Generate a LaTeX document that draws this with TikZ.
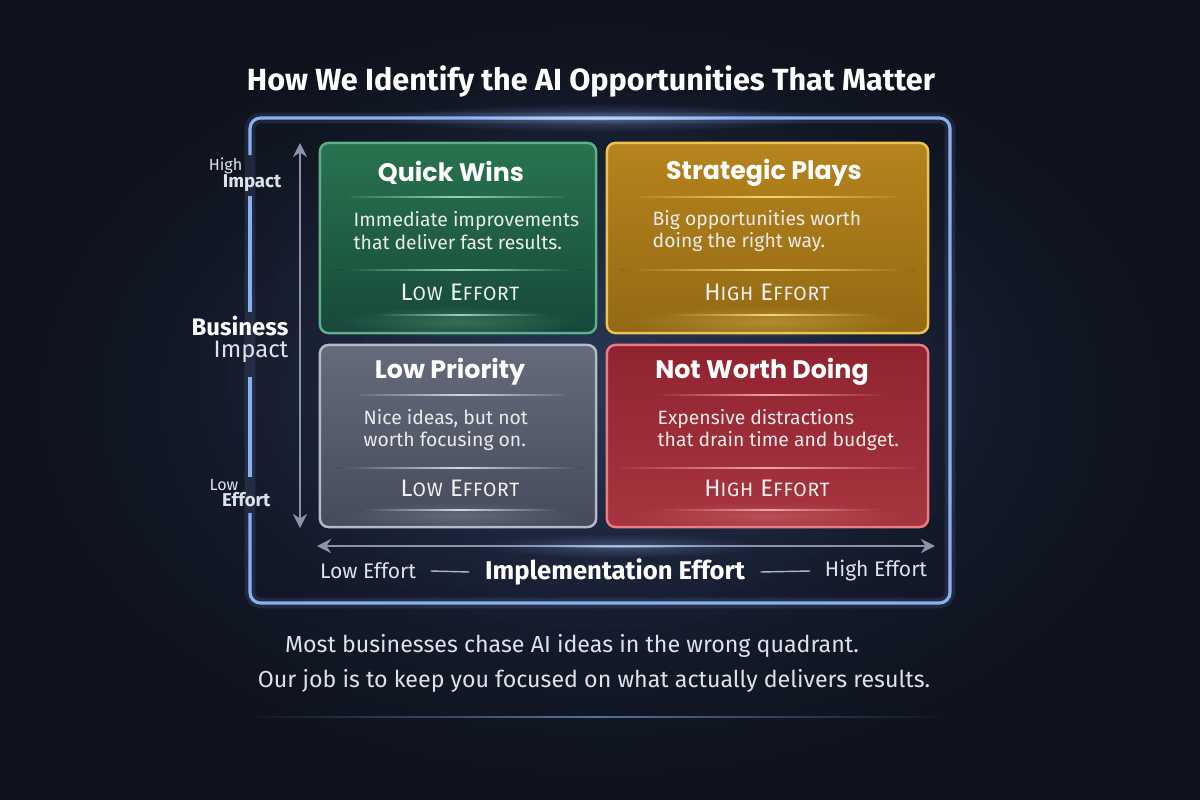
\documentclass[tikz,border=0pt]{standalone}
\usepackage{fontspec}
\setmainfont{Fira Sans}
\newfontfamily\cardfont{Poppins}
\usetikzlibrary{arrows.meta,positioning,fadings}

\definecolor{bgDark}{HTML}{0E121C}
\definecolor{bgGlow}{HTML}{1D2640}
\definecolor{frameBlue}{HTML}{8AB0F0}
\definecolor{axisGray}{HTML}{8A95AB}
\definecolor{labelGray}{HTML}{DDE2EA}
\definecolor{winsTop}{HTML}{28744F}
\definecolor{winsBot}{HTML}{17483A}
\definecolor{winsEdge}{HTML}{5DB08A}
\definecolor{winsLine}{HTML}{8FD8B2}
\definecolor{playsTop}{HTML}{B6841C}
\definecolor{playsBot}{HTML}{936914}
\definecolor{playsEdge}{HTML}{EBC452}
\definecolor{playsLine}{HTML}{F5D77A}
\definecolor{prioTop}{HTML}{656B7A}
\definecolor{prioBot}{HTML}{454B5A}
\definecolor{prioEdge}{HTML}{B4BAC7}
\definecolor{prioLine}{HTML}{D2D7E0}
\definecolor{notTop}{HTML}{912331}
\definecolor{notBot}{HTML}{A7353F}
\definecolor{notEdge}{HTML}{EB7C84}
\definecolor{notLine}{HTML}{F2A1A6}

\tikzfading[name=glowfade, inner color=transparent!0, outer color=transparent!100]

\newcommand{\sclow}[1]{{\fontsize{5.5}{6}\selectfont #1}}

\begin{document}
\begin{tikzpicture}[x=0.01cm, y=-0.01cm,
    cardbox/.style={rectangle, rounded corners=2.4pt, line width=0.7pt, inner sep=0pt},
    cardtitle/.style={text=white, font=\cardfont\bfseries\fontsize{7.2}{8}\selectfont, inner sep=0pt},
    carddesc/.style={text=white!92!black, font=\fontsize{5.5}{6.5}\selectfont, align=left, anchor=west, inner sep=0pt},
    efforttext/.style={text=white!94!black, font=\addfontfeature{LetterSpace=4}\fontsize{6.8}{7}\selectfont, inner sep=0pt},
    sidelabel/.style={text=labelGray, anchor=east, inner sep=0pt},
    axisarrow/.style={{Stealth[length=4pt,width=4pt]}-{Stealth[length=4pt,width=4pt]}, axisGray, line width=0.6pt},
    axisdash/.style={axisGray!70, line width=0.4pt},
    glow/.style={path fading=glowfade}]
    \useasboundingbox (0,0) rectangle (1200,800);

    % Background
    \shade[inner color=bgGlow, outer color=bgDark] (0,0) rectangle (1200,800);
    \fill[frameBlue, opacity=0.12, glow] (600,360) ellipse (420 and 300);

    % Title
    \node[text=white, font=\bfseries\fontsize{8.7}{10}\selectfont, inner sep=0pt] (title) at (591,81) {How We Identify the AI Opportunities That Matter};

    % Frame (with glow)
    \draw[frameBlue, line width=3pt, opacity=0.12, rounded corners=3pt] (250,118) rectangle (950,603);
    \draw[frameBlue, line width=0.9pt, rounded corners=3pt] (250,155) -- (250,118) -- (950,118) -- (950,603) -- (250,603) -- (250,513);
    \draw[frameBlue, line width=0.9pt] (250,477) -- (250,377);
    \draw[frameBlue, line width=0.9pt] (250,312) -- (250,196);
    \fill[white, opacity=0.8, glow] (600,118) ellipse (150 and 2.5);
    \fill[frameBlue, opacity=0.35, glow] (600,118) ellipse (220 and 14);

    % Axes
    \coordinate (vTop) at (300,143);
    \coordinate (vBot) at (300,528);
    \coordinate (hLeft) at (317,546);
    \coordinate (hRight) at (935,546);
    \draw[axisarrow] (vTop) -- (vBot);
    \draw[axisarrow] (hLeft) -- (hRight);
    \fill[white, opacity=0.6, glow] (620,546) ellipse (90 and 2);
    \fill[frameBlue, opacity=0.3, glow] (620,546) ellipse (140 and 12);

    % Cards
    \node[cardbox, draw=winsEdge, top color=winsTop, bottom color=winsBot, minimum width=2.76cm, minimum height=1.90cm] (wins) at (458,238) {};
    \node[cardbox, draw=playsEdge, top color=playsTop, bottom color=playsBot, minimum width=3.21cm, minimum height=1.90cm] (plays) at (767.5,238) {};
    \node[cardbox, draw=prioEdge, top color=prioTop, bottom color=prioBot, minimum width=2.76cm, minimum height=1.82cm] (prio) at (458,436) {};
    \node[cardbox, draw=notEdge, top color=notTop, bottom color=notBot, minimum width=3.21cm, minimum height=1.82cm] (notworth) at (767.5,436) {};

    % Card glows
    \fill[winsLine, opacity=0.25, glow] (458,322) ellipse (120 and 16);
    \fill[playsLine, opacity=0.3, glow] (767,322) ellipse (140 and 16);
    \fill[prioLine, opacity=0.2, glow] (458,516) ellipse (120 and 14);
    \fill[notLine, opacity=0.25, glow] (767,516) ellipse (140 and 14);

    % Divider lines
    \shade[left color=winsTop, right color=winsTop, middle color=winsLine] (350,196.3) rectangle (565,197.7);
    \shade[left color=winsBot, right color=winsBot, middle color=winsLine] (335,269.3) rectangle (585,270.7);
    \shade[left color=winsBot, right color=winsBot, middle color=winsLine] (370,314.3) rectangle (550,315.7);
    \shade[left color=playsTop, right color=playsTop, middle color=playsLine] (640,196.3) rectangle (895,197.7);
    \shade[left color=playsBot, right color=playsBot, middle color=playsLine] (620,269.3) rectangle (915,270.7);
    \shade[left color=playsBot, right color=playsBot, middle color=playsLine] (660,314.3) rectangle (880,315.7);
    \shade[left color=prioTop, right color=prioTop, middle color=prioLine] (360,394.3) rectangle (565,395.7);
    \shade[left color=prioBot, right color=prioBot, middle color=prioLine] (335,467.3) rectangle (585,468.7);
    \shade[left color=prioBot, right color=prioBot, middle color=prioLine] (360,509.3) rectangle (560,510.7);
    \shade[left color=notTop, right color=notTop, middle color=notLine] (650,394.3) rectangle (890,395.7);
    \shade[left color=notBot, right color=notBot, middle color=notLine] (620,467.3) rectangle (915,468.7);
    \shade[left color=notBot, right color=notBot, middle color=notLine] (660,509.3) rectangle (880,510.7);

    % Card texts
    \node[cardtitle] (winsTitle) at (451,173) {Quick Wins};
    \node[carddesc] (winsDesc) at (353,231) {Immediate improvements\\that deliver fast results.};
    \node[efforttext] (winsEffort) at (460,292) {L\sclow{OW} E\sclow{FFORT}};

    \node[cardtitle] (playsTitle) at (764,173) {Strategic Plays};
    \node[carddesc] (playsDesc) at (652,231) {Big opportunities worth\\doing the right way.};
    \node[efforttext] (playsEffort) at (767,292) {H\sclow{IGH} E\sclow{FFORT}};

    \node[cardtitle] (prioTitle) at (450,372) {Low Priority};
    \node[carddesc] (prioDesc) at (363,430) {Nice ideas, but not\\worth focusing on.};
    \node[efforttext] (prioEffort) at (460,488) {L\sclow{OW} E\sclow{FFORT}};

    \node[cardtitle] (notTitle) at (762,372) {Not Worth Doing};
    \node[carddesc] (notDesc) at (657,430) {Expensive distractions\\that drain time and budget.};
    \node[efforttext] (notEffort) at (767,488) {H\sclow{IGH} E\sclow{FFORT}};

    % Vertical axis labels
    \node[sidelabel, font=\fontsize{4.6}{5}\selectfont] (highTxt) at (243,166) {High};
    \node[sidelabel, font=\bfseries\fontsize{5.3}{6}\selectfont] (highImpact) at (282,183) {Impact};
    \node[sidelabel, text=white, font=\bfseries\fontsize{6.8}{7}\selectfont] (business) at (289,326) {Business};
    \node[sidelabel, font=\fontsize{6.8}{7}\selectfont] (impact) at (289,352) {Impact};
    \node[sidelabel, font=\fontsize{4.6}{5}\selectfont] (lowTxt) at (239,485) {Low};
    \node[sidelabel, font=\bfseries\fontsize{5.3}{6}\selectfont] (lowEffortV) at (271,500) {Effort};

    % Horizontal axis labels
    \node[text=labelGray, font=\fontsize{6}{7}\selectfont, inner sep=0pt] (lowEffort) at (368,571) {Low Effort};
    \node[text=white, font=\bfseries\fontsize{7.3}{8}\selectfont, inner sep=0pt] (implEffort) at (615,572) {Implementation Effort};
    \node[text=labelGray, font=\fontsize{6}{7}\selectfont, inner sep=0pt] (highEffort) at (876,571) {High Effort};
    \draw[axisdash] ([xshift=0.14cm]lowEffort.east) -- ([xshift=-0.15cm]implEffort.west);
    \draw[axisdash] ([xshift=0.15cm]implEffort.east) -- ([xshift=-0.14cm]highEffort.west);

    % Bottom message
    \node[text=labelGray, font=\fontsize{6.6}{7}\selectfont, inner sep=0pt] (msgOne) at (572,646) {Most businesses chase AI ideas in the wrong quadrant.};
    \node[text=labelGray, font=\fontsize{6.6}{7}\selectfont, inner sep=0pt] (msgTwo) at (594,681) {Our job is to keep you focused on what actually delivers results.};
    \shade[left color=bgDark, right color=bgDark, middle color=frameBlue!60!bgDark] (240,716.3) rectangle (950,717.7);
\end{tikzpicture}
\end{document}
